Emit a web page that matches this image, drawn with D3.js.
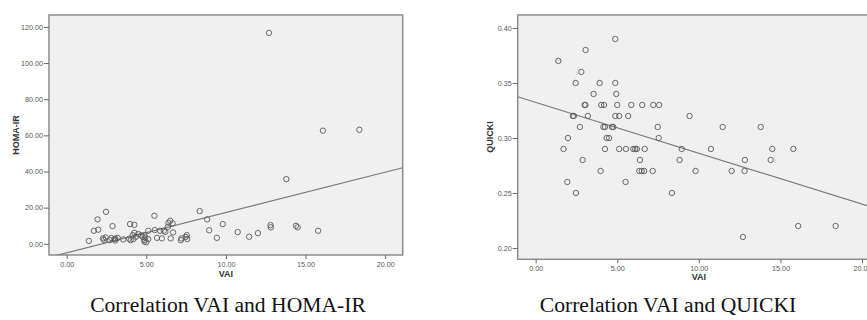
<!DOCTYPE html>
<html>
<head>
<meta charset="utf-8">
<script src="https://cdn.jsdelivr.net/npm/d3@7"></script>
<style>
  html, body { margin: 0; padding: 0; background: #fff; }
  svg { display: block; }
</style>
</head>
<body>
<svg id="chart" width="867" height="320"></svg>
<script>
// ---- data ----
const vai = [4.88,3.06,1.39,2.80,2.45,3.92,4.88,3.55,4.94,3.00,3.05,4.02,4.19,5.00,5.86,6.53,7.21,7.57,
  2.28,2.34,3.20,4.88,5.12,5.67,9.43,2.71,4.15,4.25,4.68,4.76,7.48,11.46,13.79,1.98,4.35,4.50,7.54,
  1.71,4.25,5.12,5.53,5.98,6.10,6.20,6.68,8.95,10.74,14.50,15.79,2.88,6.39,8.82,12.82,14.40,
  3.98,6.35,6.50,6.65,7.17,9.80,12.01,12.80,1.94,5.51,2.47,8.35,16.09,18.38,12.70];
const quicki = [0.39,0.38,0.37,0.36,0.35,0.35,0.35,0.34,0.34,0.33,0.33,0.33,0.33,0.33,0.33,0.33,0.33,0.33,
  0.32,0.32,0.32,0.32,0.32,0.32,0.32,0.31,0.31,0.31,0.31,0.31,0.31,0.31,0.31,0.30,0.30,0.30,0.30,
  0.29,0.29,0.29,0.29,0.29,0.29,0.29,0.29,0.29,0.29,0.29,0.29,0.28,0.28,0.28,0.28,0.28,
  0.27,0.27,0.27,0.27,0.27,0.27,0.27,0.27,0.26,0.26,0.25,0.25,0.22,0.22,0.21];
const homa = [4.8,2.9,1.6,3.2,3.5,2.8,2.2,2.4,3.4,2.6,1.8,2.0,2.6,0.8,7.2,3.0,3.0,2.6,
  3.0,2.2,3.3,1.2,2.6,3.3,3.3,2.0,4.8,10.5,4.7,3.9,3.8,3.9,35.8,7.8,3.9,5.4,4.8,
  7.2,6.1,7.2,7.6,3.0,7.2,6.6,6.3,7.5,6.5,9.1,7.2,9.8,11.6,13.5,9.1,10.0,
  10.9,9.4,12.7,11.3,2.0,10.9,5.9,10.3,13.5,15.5,17.7,18.1,62.6,63.1,116.7];
// fitted lines: [intercept, slope]
const homaFit = [-4.99, 2.23];
const quickiFit = [0.3324, -0.00463];
const xTicks = [0, 5, 10, 15, 20];
const homaTicks = [0, 20, 40, 60, 80, 100, 120];
const quickiTicks = [0.20, 0.25, 0.30, 0.35, 0.40];
const captions = ["Correlation VAI and HOMA-IR", "Correlation VAI and QUICKI"];
const xTitle = "VAI";
const yTitles = ["HOMA-IR", "QUICKI"];

const svg = d3.select("#chart");

function panel(cfg) {
  const g = svg.append("g");
  const x = d3.scaleLinear().domain(cfg.xDomain).range([cfg.left, cfg.right]);
  const y = d3.scaleLinear().domain(cfg.yDomain).range([cfg.bottom, cfg.top]);

  g.append("rect")
    .attr("x", cfg.left).attr("y", cfg.top)
    .attr("width", cfg.right - cfg.left).attr("height", cfg.bottom - cfg.top)
    .attr("fill", "#f0f0f0").attr("stroke", "#8c8c8c").attr("stroke-width", 1.5);

  const xAxis = g.append("g").attr("transform", `translate(0,${cfg.bottom})`)
    .call(d3.axisBottom(x).tickValues(xTicks).tickFormat(d3.format(".2f")).tickSize(4).tickPadding(3));
  const yAxis = g.append("g").attr("transform", `translate(${cfg.left},0)`)
    .call(d3.axisLeft(y).tickValues(cfg.yTicks).tickFormat(d3.format(".2f")).tickSize(5).tickPadding(1));
  [xAxis, yAxis].forEach(a => {
    a.select(".domain").remove();
    a.selectAll("line").attr("stroke", "#666");
    a.selectAll("text").attr("fill", "#555").style("font-family", "Liberation Sans, Arial, sans-serif").style("font-size", "7.2px");
  });

  const clipId = "clip" + cfg.id;
  g.append("clipPath").attr("id", clipId).append("rect")
    .attr("x", cfg.left).attr("y", cfg.top)
    .attr("width", cfg.right - cfg.left).attr("height", cfg.bottom - cfg.top);

  const [a, b] = cfg.fit;
  g.append("line").attr("clip-path", `url(#${clipId})`)
    .attr("x1", x(cfg.xDomain[0])).attr("y1", y(a + b * cfg.xDomain[0]))
    .attr("x2", x(cfg.xDomain[1])).attr("y2", y(a + b * cfg.xDomain[1]))
    .attr("stroke", "#7a7a7a").attr("stroke-width", 1.2);

  g.append("g").selectAll("circle").data(cfg.xs.map((v, i) => [v, cfg.ys[i]]))
    .join("circle")
    .attr("cx", d => x(d[0])).attr("cy", d => y(d[1])).attr("r", 2.7)
    .attr("fill", "none").attr("stroke", "#5a5a5a").attr("stroke-width", 0.9);

  g.append("text").text(xTitle)
    .attr("x", (cfg.left + cfg.right) / 2).attr("y", cfg.xTitleY)
    .attr("text-anchor", "middle")
    .style("font-family", "Liberation Sans, Arial, sans-serif").style("font-weight", "bold").style("font-size", "9px")
    .attr("fill", "#333");

  g.append("text").text(cfg.yTitle)
    .attr("transform", `translate(${cfg.yTitleX},${cfg.yTitleCY}) rotate(-90)`)
    .attr("text-anchor", "middle")
    .style("font-family", "Liberation Sans, Arial, sans-serif").style("font-weight", "bold").style("font-size", "9px")
    .attr("fill", "#333");

  g.append("text").text(cfg.caption)
    .attr("x", cfg.captionX).attr("y", 312)
    .attr("text-anchor", "middle")
    .style("font-family", "Liberation Serif, Times New Roman, serif").style("font-size", "21.6px")
    .attr("fill", "#111");
}

panel({
  id: 1, left: 49, right: 402.7, top: 15, bottom: 255,
  xDomain: [-1.11, 21.1], yDomain: [-6.2, 126.6], yTicks: homaTicks,
  xs: vai, ys: homa, fit: homaFit,
  xTitleY: 277, yTitle: yTitles[0], yTitleX: 19, yTitleCY: 135,
  caption: captions[0], captionX: 228
});
panel({
  id: 2, left: 517.7, right: 880, top: 15, bottom: 259.3,
  xDomain: [-1.10, 21.1], yDomain: [0.1897, 0.4118], yTicks: quickiTicks,
  xs: vai, ys: quicki, fit: quickiFit,
  xTitleY: 280, yTitle: yTitles[1], yTitleX: 492.5, yTitleCY: 137,
  caption: captions[1], captionX: 668
});
</script>
</body>
</html>
